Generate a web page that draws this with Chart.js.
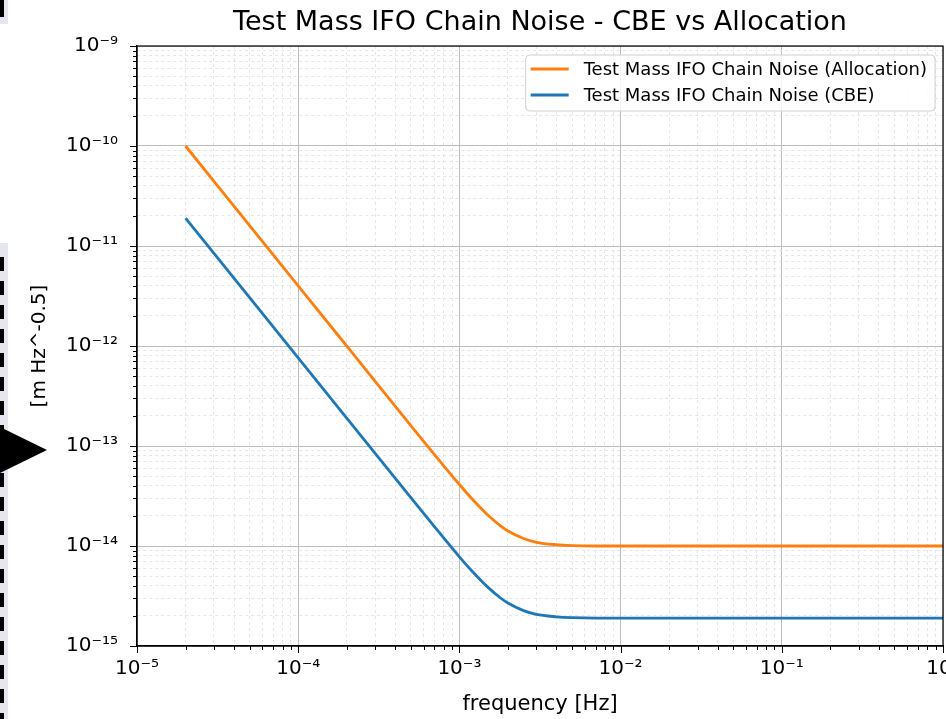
<!DOCTYPE html>
<html>
<head>
<meta charset="utf-8">
<script src="https://cdn.jsdelivr.net/npm/chart.js@4.4.1/dist/chart.umd.min.js"></script>
<style>
  html, body { margin: 0; padding: 0; background: #fff; overflow: hidden; }
  #wrap { position: relative; width: 946px; height: 719px; }
  #chart { position: absolute; left: 0; top: 0; }
  .panel { position: absolute; left: 0; width: 8px; background: #e6e6ee; }
  .dash { position: absolute; left: 0; width: 4px;
    background: repeating-linear-gradient(to bottom, #000 0 14px, transparent 14px 24px); }
  .arrow { position: absolute; left: 0; top: 427px; width: 0; height: 0;
    border-left: 47px solid #000; border-top: 23px solid transparent; border-bottom: 23px solid transparent; }
</style>
</head>
<body>
<div id="wrap">
  <canvas id="chart" width="946" height="719"></canvas>
  <div class="panel" style="top:0;height:24px"></div>
  <div style="position:absolute;left:0;top:0;width:4px;height:17px;background:#000"></div>
  <div class="panel" style="top:243px;height:476px"></div>
  <div class="dash" style="top:257px;height:462px"></div>
  <div class="arrow"></div>
</div>
<script>
// 주파수 [Hz]
const freq = [2e-5, 5e-5, 1e-4, 2e-4, 5e-4, 7e-4, 1e-3, 1.2e-3, 1.5e-3, 1.8e-3, 2e-3,
  2.5e-3, 3e-3, 4e-3, 5e-3, 7e-3, 1e-2, 1e-1, 1];
// 할당값 (Allocation)
const allocation = [1.0e-10, 1.6e-11, 4.0e-12, 1.0e-12, 1.6e-13, 8.2e-14, 4.12e-14, 2.95e-14,
  2.04e-14, 1.59e-14, 1.41e-14, 1.19e-14, 1.09e-14, 1.03e-14, 1.01e-14, 1.0e-14, 1.0e-14, 1.0e-14, 1.0e-14];
// 현재 추정치 (CBE)
const cbe = [1.9e-11, 3.04e-12, 7.6e-13, 1.9e-13, 3.04e-14, 1.56e-14, 7.8e-15, 5.6e-15,
  3.88e-15, 3.02e-15, 2.69e-15, 2.26e-15, 2.07e-15, 1.96e-15, 1.92e-15, 1.9e-15, 1.9e-15, 1.9e-15, 1.9e-15];

// 눈금
const xDecades = [-5, -4, -3, -2, -1, 0];
const xTickLabels = ['10⁻⁵', '10⁻⁴', '10⁻³', '10⁻²', '10⁻¹', '10⁰'];
const yDecades = [-15, -14, -13, -12, -11, -10, -9];
const yTickLabels = ['10⁻¹⁵', '10⁻¹⁴', '10⁻¹³', '10⁻¹²', '10⁻¹¹', '10⁻¹⁰', '10⁻⁹'];

const chartTitle = 'Test Mass IFO Chain Noise - CBE vs Allocation';
const FONT = "'DejaVu Sans', sans-serif";

function logTicks(decades, labels) {
  const ticks = [];
  decades.forEach((e, i) => {
    const base = Math.pow(10, e);
    ticks.push({ value: base, major: true, text: labels[i] });
    if (i < decades.length - 1) {
      for (let k = 2; k <= 9; k++) ticks.push({ value: k * base, major: false, text: '' });
    }
  });
  return ticks;
}

const isMajor = (c) => c.tick && c.tick.major;

// 제목, 프레임, 눈금 표시, 범례 그리기
const framePlugin = {
  id: 'frame',
  afterDraw(chart) {
    const { ctx, chartArea: a, scales } = chart;
    ctx.save();

    // 제목 (플롯 영역 기준 가운데)
    ctx.fillStyle = '#000';
    ctx.font = '27px ' + FONT;
    ctx.textAlign = 'center';
    ctx.textBaseline = 'middle';
    ctx.fillText(chartTitle, (a.left + a.right) / 2, 23);

    ctx.strokeStyle = '#000';
    ctx.lineWidth = 1.2;
    ctx.strokeRect(a.left, a.top, a.right - a.left, a.bottom - a.top);

    ctx.lineWidth = 1;
    ctx.beginPath();
    scales.x.ticks.forEach(t => {
      const px = Math.round(scales.x.getPixelForValue(t.value)) + 0.5;
      ctx.moveTo(px, a.bottom);
      ctx.lineTo(px, a.bottom + (t.major ? 7 : 4));
    });
    scales.y.ticks.forEach(t => {
      const py = Math.round(scales.y.getPixelForValue(t.value)) + 0.5;
      ctx.moveTo(a.left, py);
      ctx.lineTo(a.left - (t.major ? 7 : 4), py);
    });
    ctx.stroke();

    // 범례
    const ds = chart.data.datasets;
    ctx.font = '18px ' + FONT;
    const tw = Math.max(...ds.map(d => ctx.measureText(d.label).width));
    const w = 5 + 38 + 15 + tw + 8;
    const right = a.right - 8;
    const left = right - w;
    const top = a.top + 9;
    const h = 56;
    ctx.beginPath();
    ctx.roundRect(left, top, w, h, 4);
    ctx.fillStyle = 'rgba(255,255,255,0.85)';
    ctx.fill();
    ctx.strokeStyle = '#d0d0d0';
    ctx.lineWidth = 1;
    ctx.stroke();
    ds.forEach((d, i) => {
      const y = top + 14 + i * 26;
      ctx.strokeStyle = d.borderColor;
      ctx.lineWidth = 2.8;
      ctx.beginPath();
      ctx.moveTo(left + 5, y);
      ctx.lineTo(left + 43, y);
      ctx.stroke();
      ctx.fillStyle = '#000';
      ctx.textBaseline = 'middle';
      ctx.textAlign = 'left';
      ctx.fillText(d.label, left + 58, y + 1);
    });
    ctx.restore();
  }
};

new Chart(document.getElementById('chart'), {
  type: 'line',
  data: {
    datasets: [
      {
        label: 'Test Mass IFO Chain Noise (Allocation)',
        data: freq.map((f, i) => ({ x: f, y: allocation[i] })),
        borderColor: '#ff7f0e',
        borderWidth: 2.8,
        pointRadius: 0,
        cubicInterpolationMode: 'monotone'
      },
      {
        label: 'Test Mass IFO Chain Noise (CBE)',
        data: freq.map((f, i) => ({ x: f, y: cbe[i] })),
        borderColor: '#1f77b4',
        borderWidth: 2.8,
        pointRadius: 0,
        cubicInterpolationMode: 'monotone'
      }
    ]
  },
  options: {
    responsive: false,
    animation: false,
    devicePixelRatio: 1,
    layout: { padding: { top: 46, right: 3, bottom: 0, left: 0 } },
    plugins: {
      legend: { display: false },
      tooltip: { enabled: false },
      title: { display: false }
    },
    scales: {
      x: {
        type: 'logarithmic',
        min: 1e-5,
        max: 1,
        afterBuildTicks: s => { s.ticks = logTicks(xDecades, xTickLabels); },
        afterFit: s => { s.height = 73; s.paddingLeft = 0; s.paddingRight = 0; },
        ticks: {
          autoSkip: false,
          maxRotation: 0,
          padding: 11,
          color: '#000',
          font: { family: FONT, size: 20 },
          callback: (v, i, t) => t[i].major ? t[i].text : ''
        },
        grid: {
          drawTicks: false,
          color: c => isMajor(c) ? '#bdbdbd' : '#e0e0e0',
          lineWidth: c => isMajor(c) ? 1 : 0.8
        },
        border: { display: true, color: '#000', width: 1.2, dash: c => (c.tick && !c.tick.major) ? [3, 3] : [] },
        title: {
          display: true,
          text: 'frequency [Hz]',
          color: '#000',
          font: { family: FONT, size: 21 },
          padding: { top: 0, bottom: 2 }
        }
      },
      y: {
        type: 'logarithmic',
        min: 1e-15,
        max: 1e-9,
        afterBuildTicks: s => { s.ticks = logTicks(yDecades, yTickLabels); },
        afterFit: s => { s.width = 137; s.paddingTop = 0; s.paddingBottom = 0; },
        ticks: {
          autoSkip: false,
          padding: 19,
          color: '#000',
          font: { family: FONT, size: 20 },
          callback: (v, i, t) => t[i].major ? t[i].text : ''
        },
        grid: {
          drawTicks: false,
          color: c => isMajor(c) ? '#bdbdbd' : '#e0e0e0',
          lineWidth: c => isMajor(c) ? 1 : 0.8
        },
        border: { display: true, color: '#000', width: 1.2, dash: c => (c.tick && !c.tick.major) ? [3, 3] : [] },
        title: {
          display: true,
          text: '[m Hz^-0.5]',
          color: '#000',
          font: { family: FONT, size: 20 },
          padding: { top: 28, bottom: 0 }
        }
      }
    }
  },
  plugins: [framePlugin]
});
</script>
</body>
</html>
